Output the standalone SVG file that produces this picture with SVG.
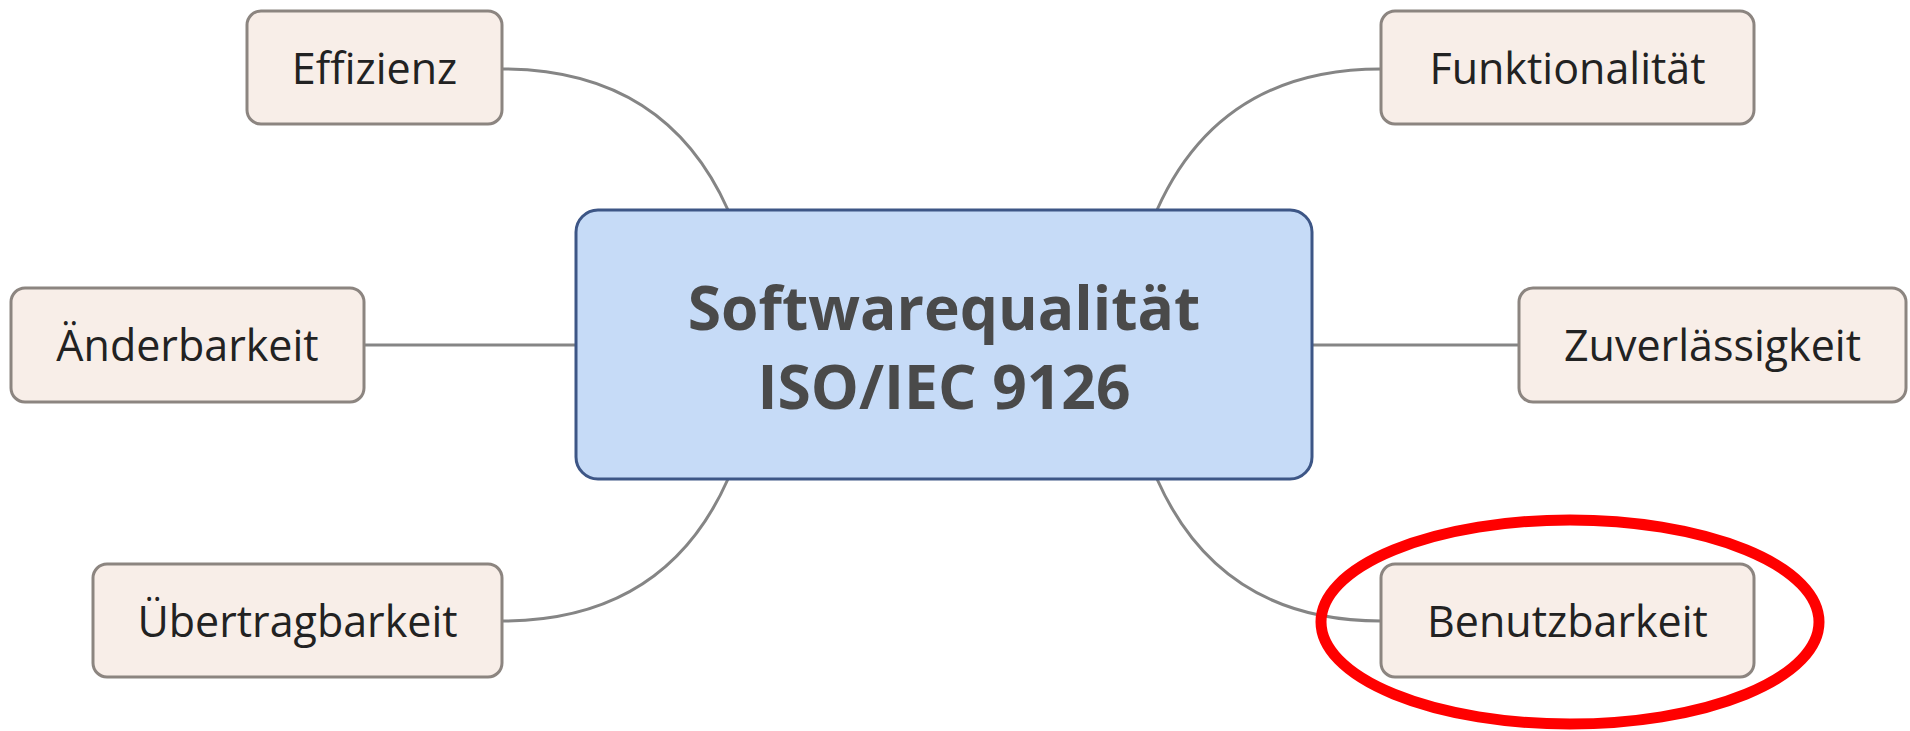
<svg xmlns="http://www.w3.org/2000/svg" width="1910" height="731" viewBox="0 0 1910 731">
  <style>
    .topic rect { fill: #f8eee8; stroke: #8c8580; stroke-width: 3; }
    .topic text { font-family: "Open Sans", "Noto Sans", sans-serif; font-size: 43px; fill: #222222; text-anchor: middle; }
    .central rect { fill: #c6dbf7; stroke: #3d5686; stroke-width: 3; }
    .central text { font-family: "Open Sans", "Noto Sans", sans-serif; font-size: 60.5px; font-weight: bold; fill: #4a4a4a; text-anchor: middle; }
    .links path { fill: none; stroke: #858585; stroke-width: 3; }
    .mark { fill: none; stroke: #ff0000; stroke-width: 11; }
  </style>

  <!-- branches from the central topic -->
  <g id="connectors" class="links">
    <path d="M502,69 Q665,69 728,210"/>
    <path d="M1381,69 Q1220,69 1157,210"/>
    <path d="M364,345 L576,345"/>
    <path d="M1312,345 L1519,345"/>
    <path d="M502,621 Q665,621 728,479"/>
    <path d="M1381,621 Q1220,621 1157,479"/>
  </g>

  <g id="central" class="central">
    <rect x="576" y="210" width="736" height="269" rx="22"/>
    <text x="944" y="330">Softwarequalität</text>
    <text x="944" y="409">ISO/IEC 9126</text>
  </g>

  <g id="effizienz" class="topic">
    <rect x="247" y="11" width="255" height="113" rx="14"/>
    <text x="374.5" y="84">Effizienz</text>
  </g>

  <g id="funktionalitaet" class="topic">
    <rect x="1381" y="11" width="373" height="113" rx="14"/>
    <text x="1567.5" y="84">Funktionalität</text>
  </g>

  <g id="aenderbarkeit" class="topic">
    <rect x="11" y="288" width="353" height="114" rx="14"/>
    <text x="187.5" y="361">Änderbarkeit</text>
  </g>

  <g id="zuverlaessigkeit" class="topic">
    <rect x="1519" y="288" width="387" height="114" rx="14"/>
    <text x="1712.5" y="361">Zuverlässigkeit</text>
  </g>

  <g id="uebertragbarkeit" class="topic">
    <rect x="93" y="564" width="409" height="113" rx="14"/>
    <text x="297.5" y="637">Übertragbarkeit</text>
  </g>

  <g id="benutzbarkeit" class="topic">
    <rect x="1381" y="564" width="373" height="113" rx="14"/>
    <text x="1567.5" y="637">Benutzbarkeit</text>
  </g>

  <!-- highlight around Benutzbarkeit -->
  <ellipse class="mark" cx="1570" cy="622" rx="249" ry="102"/>
</svg>
